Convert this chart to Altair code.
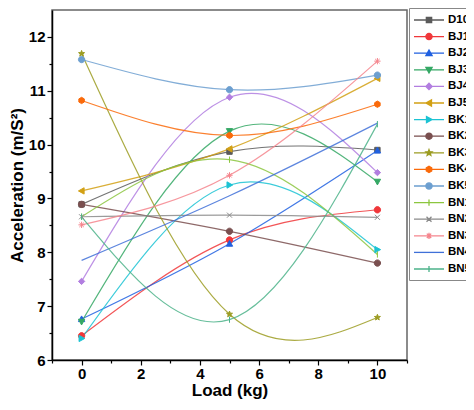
import math
import altair as alt
import pandas as pd

# ---------------- data ----------------
loads = [0, 5, 10]
series = ["D100", "BJ10", "BJ20", "BJ30", "BJ40", "BJ50",
          "BK10", "BK20", "BK30", "BK40", "BK50",
          "BN10", "BN20", "BN30", "BN40", "BN50"]

d100 = [8.89, 9.87, 9.90]
bj10 = [6.45, 8.23, 8.79]
bj20 = [6.76, 8.16, 9.89]
bj30 = [6.71, 10.25, 9.31]
bj40 = [7.46, 10.88, 9.48]
bj50 = [9.14, 9.92, 11.23]
bk10 = [6.40, 9.25, 8.05]
bk20 = [8.89, 8.39, 7.80]
bk30 = [11.69, 6.85, 6.79]
bk40 = [10.82, 10.17, 10.75]
bk50 = [11.58, 11.02, 11.29]
bn10 = [8.66, 9.72, 7.96]
bn20 = [8.66, 8.69, 8.65]
bn30 = [8.51, 9.43, 11.55]
bn40 = [7.85, 9.05, 10.40]
bn50 = [8.66, 6.75, 10.38]

values = [d100, bj10, bj20, bj30, bj40, bj50, bk10, bk20, bk30, bk40, bk50,
          bn10, bn20, bn30, bn40, bn50]

# ---------------- styles ----------------
colors = ["#5a5a5a", "#f0373a", "#2060e0", "#35a865", "#b27ee0", "#d2a014",
          "#1cc3d3", "#7a4f4f", "#9c9c22", "#fa6a0a", "#6c9fd0",
          "#8cc63f", "#8a8a8a", "#f5858d", "#3f70d8", "#4cb38a"]
markers = ["square", "circle", "tri_up", "tri_down", "diamond", "tri_left",
           "tri_right", "circle", "star", "hexagon", "circle",
           "vbar", "xmark", "asterisk", "none", "vbar"]


def poly(pts, k):
    return "M" + "L".join(f"{x * k:.3f},{y * k:.3f}" for x, y in pts) + "Z"


def marker_path(kind, k=1.0):
    if kind == "square":
        s = 0.85
        return poly([(-s, -s), (s, -s), (s, s), (-s, s)], k)
    if kind == "circle":
        r = k
        return f"M{-r:.3f},0A{r:.3f},{r:.3f} 0 1,0 {r:.3f},0A{r:.3f},{r:.3f} 0 1,0 {-r:.3f},0Z"
    if kind == "tri_up":
        return poly([(0, -1), (1, 0.8), (-1, 0.8)], k)
    if kind == "tri_down":
        return poly([(0, 1), (1, -0.8), (-1, -0.8)], k)
    if kind == "tri_left":
        return poly([(-1, 0), (0.8, -1), (0.8, 1)], k)
    if kind == "tri_right":
        return poly([(1, 0), (-0.8, -1), (-0.8, 1)], k)
    if kind == "diamond":
        return poly([(0, -1), (1, 0), (0, 1), (-1, 0)], k)
    if kind == "star":
        pts = []
        for i in range(10):
            r = 1.0 if i % 2 == 0 else 0.42
            a = -math.pi / 2 + i * math.pi / 5
            pts.append((r * math.cos(a), r * math.sin(a)))
        return poly(pts, k)
    if kind == "hexagon":
        pts = [(math.cos(math.pi / 6 + i * math.pi / 3), math.sin(math.pi / 6 + i * math.pi / 3)) for i in range(6)]
        return poly(pts, k)
    if kind == "vbar":
        return f"M0,{-k:.3f}L0,{k:.3f}"
    if kind == "xmark":
        s = 0.8 * k
        return f"M{-s:.3f},{-s:.3f}L{s:.3f},{s:.3f}M{-s:.3f},{s:.3f}L{s:.3f},{-s:.3f}"
    if kind == "asterisk":
        s = 0.7 * k
        return (f"M0,{-k:.3f}L0,{k:.3f}M{-k:.3f},0L{k:.3f},0"
                f"M{-s:.3f},{-s:.3f}L{s:.3f},{s:.3f}M{-s:.3f},{s:.3f}L{s:.3f},{-s:.3f}")
    return ""


# legend symbol: 12px unit box, line 30px wide, marker ~3px half-size
legend_paths = ["M-2.5,0L2.5,0" + marker_path(m, 0.52) for m in markers]

rows = []
for name, vals in zip(series, values):
    for x, v in zip(loads, vals):
        rows.append({"series": name, "load": x, "acc": v})
df = pd.DataFrame(rows)

FONT = "Liberation Sans"

cscale = alt.Scale(domain=series, range=colors)

x_enc = alt.X("load:Q", scale=alt.Scale(domain=[-1, 11], nice=False, zero=False),
              axis=alt.Axis(title="Load (kg)", values=list(range(-1, 12)),
                            labelExpr="(datum.value % 2 == 0 && datum.value >= 0 && datum.value <= 10) ? format(datum.value, 'd') : ''",
                            tickSize={"condition": {"test": "datum.value % 2 != 0", "value": 3}, "value": 5},
                            labelFlush=False, labelOverlap=False, grid=False,
                            labelPadding=1, titlePadding=1))
y_enc = alt.Y("acc:Q", scale=alt.Scale(domain=[6, 12.5], nice=False, zero=False),
              axis=alt.Axis(title="Acceleration (m/S²)",
                            values=[6 + 0.5 * i for i in range(13)],
                            labelExpr="(datum.value % 1 == 0) ? format(datum.value, 'd') : ''",
                            tickSize={"condition": {"test": "datum.value % 1 != 0", "value": 3}, "value": 5},
                            labelFlush=False, labelOverlap=False, grid=False,
                            labelPadding=2, titlePadding=2))

leg = alt.Legend(orient="none", legendX=357, legendY=-2, title=None,
                 labelFont=FONT, labelFontSize=11.5, labelFontWeight="bold",
                 labelColor="black", labelOffset=12, labelLimit=0,
                 symbolSize=144, symbolOffset=8, symbolStrokeWidth=1.3, symbolOpacity=1,
                 rowPadding=3.6, padding=5, strokeColor="#888888", fillColor="white")

base = alt.Chart(df)

lines = base.mark_line(interpolate="natural", strokeWidth=1.2, opacity=0.85).encode(
    x=x_enc, y=y_enc,
    color=alt.Color("series:N", scale=cscale, legend=leg),
    detail="series:N",
    order="load:Q",
)

layers = [lines]
for name, col, m in zip(series, colors, markers):
    if m == "none":
        continue
    layers.append(
        base.transform_filter(alt.datum.series == name).mark_point(
            shape=marker_path(m, 1.0), filled=True, fill=col, stroke=col,
            strokeWidth=1, size=40, opacity=1
        ).encode(x=x_enc, y=y_enc)
    )

legend_layer = base.transform_filter(alt.datum.load == 0).mark_point(
    filled=True, opacity=0, size=144
).encode(
    x=x_enc, y=y_enc,
    color=alt.Color("series:N", scale=cscale, legend=leg),
    stroke=alt.Stroke("series:N", scale=cscale, legend=leg),
    shape=alt.Shape("series:N", scale=alt.Scale(domain=series, range=legend_paths), legend=leg),
)
layers.append(legend_layer)

chart = alt.layer(*layers).properties(
    width=355, height=350,
    autosize=alt.AutoSizeParams(type="none"),
    padding={"left": 44, "top": 2, "right": 59, "bottom": 42},
).configure_view(
    stroke="#666666", strokeWidth=1.5
).configure_axis(
    labelFont=FONT, labelFontSize=15, labelFontWeight="bold", labelColor="black",
    titleFont=FONT, titleFontSize=17, titleFontWeight="bold", titleColor="black",
    domainColor="black", domainWidth=1.5, tickColor="black", tickWidth=1.2,
)

chart.save("out.html", embed_options={"renderer": "svg", "actions": False})
